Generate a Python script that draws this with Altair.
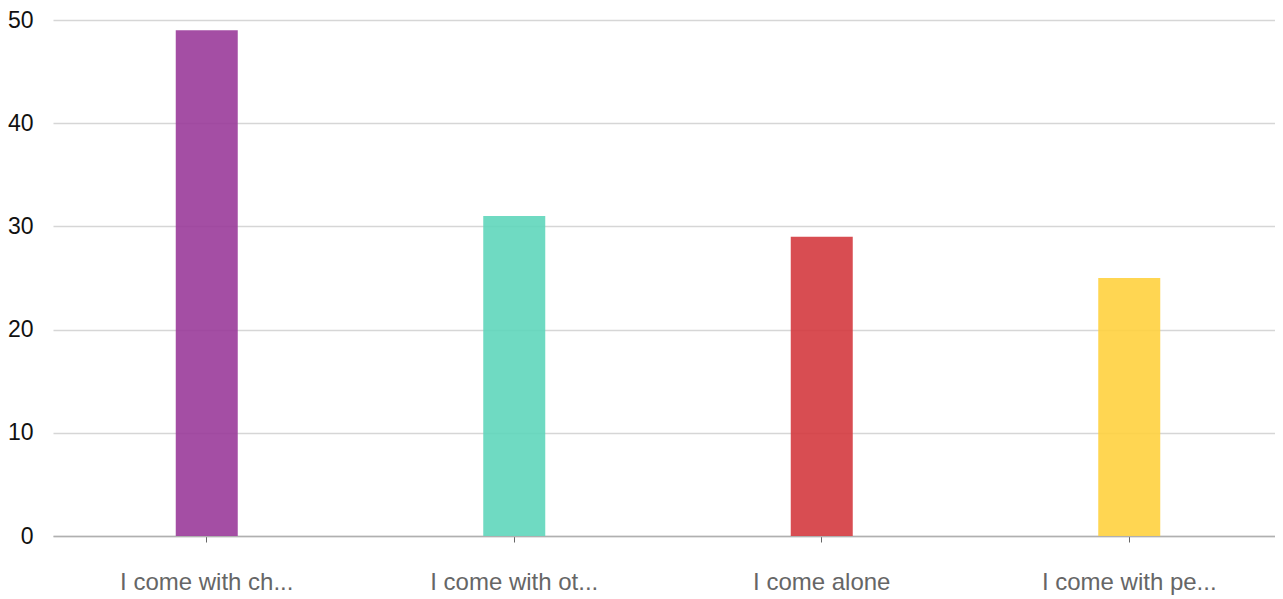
import altair as alt
import pandas as pd

categories = ["I come with ch...", "I come with ot...", "I come alone", "I come with pe..."]
values = [49, 31, 29, 25]
colors = ["#9a3b9a", "#5fd6bb", "#d43a3f", "#ffd23f"]

df = pd.DataFrame({"cat": categories, "val": values, "color": colors})

FONT = "Liberation Sans"

chart = alt.Chart(df).mark_bar(size=62, opacity=0.9).encode(
    x=alt.X("cat:N", sort=categories, title=None,
            scale=alt.Scale(paddingInner=0, paddingOuter=0, range=[0, 1230]),
            axis=alt.Axis(labelAngle=0, labelFontSize=24, labelColor="#666666",
                          labelFont=FONT, labelPadding=28, tickSize=6,
                          tickColor="#666666", domainColor="#b0b0b0",
                          domainWidth=1.5, grid=False, labelLimit=300)),
    y=alt.Y("val:Q", title=None,
            scale=alt.Scale(domain=[0, 50], nice=False),
            axis=alt.Axis(values=[0, 10, 20, 30, 40, 50], labelFontSize=23,
                          labelColor="#111111", labelFont=FONT, labelPadding=20,
                          ticks=False, domain=False, gridColor="#d6d6d6",
                          gridWidth=1.5)),
    color=alt.Color("color:N", scale=None, legend=None),
).properties(
    width=1222, height=516,
    autosize=alt.AutoSizeParams(type="none"),
    padding={"left": 45, "top": 12, "right": 0, "bottom": 60},
    background="white",
).configure_view(stroke=None)

chart.save("out.html", embed_options={"renderer": "svg", "actions": False})
